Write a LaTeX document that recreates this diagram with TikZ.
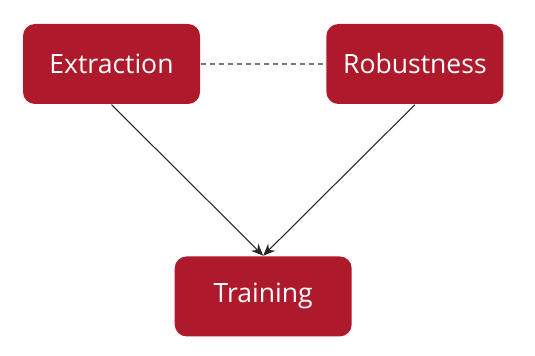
\documentclass[tikz,border=0pt]{standalone}
\usepackage{fontspec}
\setmainfont{Open Sans}
\usetikzlibrary{arrows.meta, positioning, calc}
\definecolor{cRed}{RGB}{174,25,43}
\definecolor{cDash}{RGB}{120,120,120}
\tikzset{
	topic/.style={rectangle, rounded corners=0.12cm, minimum width=1.77cm, minimum height=0.8cm, text centered, align=center, fill=cRed, text=white, inner sep=0pt},
	link/.style ={-{Stealth[length=1.2mm, width=1mm]}, line width=0.3pt, black!85},
	tie/.style  ={draw=cDash, line width=0.3pt, dash pattern=on 0.55mm off 0.35mm},
}
\begin{document}
\begin{tikzpicture}[font=\fontsize{7.55}{9}\selectfont]
	\useasboundingbox (0,0) rectangle (5.35,3.55);
	\node[topic] (ext) at (1.115,2.91) {Extraction};
	\node[topic, right=1.25cm of ext] (rob) {Robustness};
	\node[topic, below=1.51cm of $(ext.south)!0.5!(rob.south)$, anchor=north] (trn) {Training};
	\draw[tie] (ext) -- (rob);
	\draw[link] (ext.south) -- (trn.north); \draw[link] (rob.south) -- (trn.north);
\end{tikzpicture}
\end{document}
